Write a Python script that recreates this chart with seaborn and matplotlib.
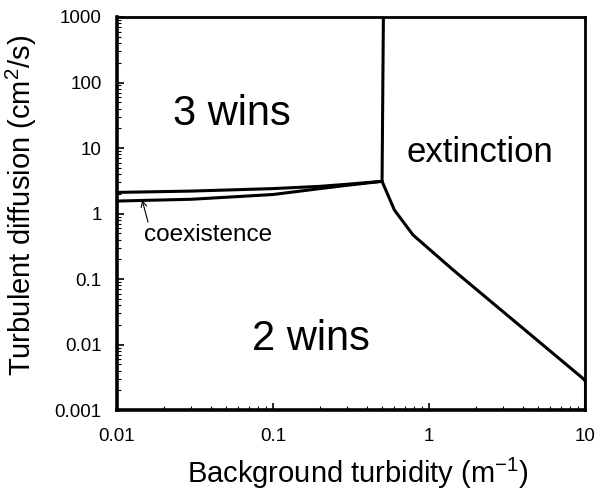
import numpy as np
import pandas as pd
import matplotlib
matplotlib.use('Agg')
import matplotlib.pyplot as plt
import matplotlib.ticker as mticker
import seaborn as sns

# Boundary curves
upper_x = [0.01, 0.03, 0.1, 0.2, 0.3, 0.5]
upper_y = [2.1, 2.2, 2.4, 2.6, 2.8, 3.1]
lower_x = [0.01, 0.03, 0.1, 0.2, 0.3, 0.5]
lower_y = [1.55, 1.65, 1.95, 2.4, 2.7, 3.1]
vert_x = [0.5, 0.51]
vert_y = [3.1, 1000]
ext_x = [0.5, 0.6, 0.79, 1.43, 9.6, 10]
ext_y = [3.1, 1.13, 0.47, 0.137, 0.0031, 0.0028]
edge_x = [10, 10]
edge_y = [0.0028, 0.001]

sns.set_style('ticks')
plt.rcParams['font.family'] = ['Liberation Sans', 'DejaVu Sans']
plt.rcParams['mathtext.default'] = 'regular'
plt.rcParams['text.color'] = 'black'
plt.rcParams['axes.labelcolor'] = 'black'

fig = plt.figure(figsize=(6.01, 4.97), dpi=100)
ax = fig.add_axes([0.1947, 0.175, 0.7787, 0.7908])

curves = [(upper_x, upper_y), (lower_x, lower_y), (vert_x, vert_y),
          (ext_x, ext_y), (edge_x, edge_y)]
for xs, ys in curves:
    sns.lineplot(x=xs, y=ys, ax=ax, color='black', linewidth=2.2,
                 sort=False, estimator=None)

ax.set_xscale('log')
ax.set_yscale('log')
ax.set_xlim(0.01, 10)
ax.set_ylim(0.001, 1000)

ax.xaxis.set_major_formatter(mticker.FuncFormatter(lambda v, p: f'{v:g}'))
ax.yaxis.set_major_formatter(mticker.FuncFormatter(lambda v, p: f'{v:g}'))
ax.tick_params(which='both', direction='in', top=False, right=False,
               labelsize=13.5, colors='black')
ax.tick_params(which='major', length=5, width=1.2)
ax.tick_params(axis='x', which='major', pad=13)
ax.tick_params(axis='y', which='major', pad=11)
ax.tick_params(which='minor', length=3, width=0.8)

for side, lw in [('left', 2.6), ('bottom', 2.6), ('top', 2.0), ('right', 2.0)]:
    ax.spines[side].set_linewidth(lw)
    ax.spines[side].set_color('black')

ax.set_xlabel('Background turbidity (m$^{-1}$)', fontsize=21, labelpad=8, x=0.515)
ax.set_ylabel('Turbulent diffusion (cm$^2$/s)', fontsize=21, labelpad=11, y=0.52)

ax.text(0.0546, 22.4, '3 wins', fontsize=30, ha='center', va='baseline')
ax.text(2.12, 6.1, 'extinction', fontsize=25, ha='center', va='baseline')
ax.text(0.175, 0.0082, '2 wins', fontsize=30, ha='center', va='baseline')
ax.text(0.0383, 0.38, 'coexistence', fontsize=17.5, ha='center', va='baseline')
ax.annotate('', xy=(0.0145, 1.6), xytext=(0.0158, 0.74),
            arrowprops=dict(arrowstyle='->', color='black', lw=0.8,
                            shrinkA=0, shrinkB=0))

fig.savefig('out.png', dpi=100, facecolor='white')
